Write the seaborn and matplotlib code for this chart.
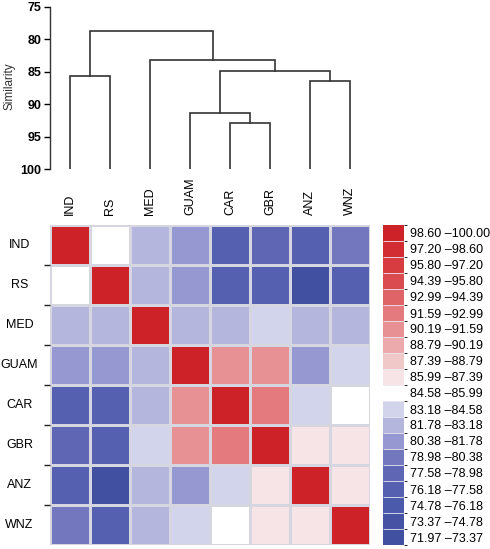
import numpy as np
import pandas as pd
import matplotlib
matplotlib.use("Agg")
import matplotlib.pyplot as plt
import seaborn as sns
from matplotlib.colors import ListedColormap, BoundaryNorm

# Sites in dendrogram / heatmap order
sites = ["IND", "RS", "MED", "GUAM", "CAR", "GBR", "ANZ", "WNZ"]

# Pairwise similarity (%)
similarity = [
    [100.0, 85.3, 82.5, 81.0, 76.8, 78.3, 77.0, 79.6],
    [85.3, 100.0, 82.5, 81.0, 77.0, 77.3, 72.5, 76.5],
    [82.5, 82.5, 100.0, 82.6, 82.5, 83.9, 82.4, 82.2],
    [81.0, 81.0, 82.6, 100.0, 90.6, 90.6, 81.0, 83.9],
    [76.8, 77.0, 82.5, 90.6, 100.0, 92.2, 83.9, 85.3],
    [78.3, 77.3, 83.9, 90.6, 92.2, 100.0, 86.5, 86.6],
    [77.0, 72.5, 82.4, 81.0, 83.9, 86.5, 100.0, 86.5],
    [79.6, 76.5, 82.2, 83.9, 85.3, 86.6, 86.5, 100.0],
]

# Dendrogram merges (scipy-style: left id, right id, similarity); new ids start at 8
merges = [
    [4, 5, 92.93],    # CAR + GBR        -> 8
    [3, 8, 91.39],    # GUAM + 8         -> 9
    [6, 7, 86.37],    # ANZ + WNZ        -> 10
    [0, 1, 85.66],    # IND + RS         -> 11
    [9, 10, 84.94],   # 9 + 10           -> 12
    [2, 12, 83.25],   # MED + 12         -> 13
    [11, 13, 78.70],  # 11 + 13          -> 14
]

# Colour class boundaries of the legend
bounds = [71.97, 73.37, 74.78, 76.18, 77.58, 78.98, 80.38, 81.78, 83.18, 84.58,
          85.99, 87.39, 88.79, 90.19, 91.59, 92.99, 94.39, 95.80, 97.20, 98.60, 100.00]

# Class colours, low -> high
class_colors = [
    "#4150a0", "#4653a5", "#4b5aaa", "#5560b0", "#5f66b4",
    "#7378be", "#9698d2", "#b4b6de", "#d2d4ec", "#ffffff",
    "#f6e4e6", "#f0c8c8", "#ecaaac", "#e89194", "#e47a7e",
    "#de6468", "#da4b50", "#d63c40", "#d22d32", "#cd2328",
]

plt.rcParams["font.family"] = ["Liberation Sans", "DejaVu Sans"]

fig = plt.figure(figsize=(4.9, 5.49), dpi=100)
W, H = 490, 549

def box(x0, y0, x1, y1):
    return [x0 / W, 1 - y1 / H, (x1 - x0) / W, (y1 - y0) / H]

ax_d = fig.add_axes(box(50, 6.7, 370, 169.3))
ax_h = fig.add_axes(box(50, 225, 370, 545))
cax = fig.add_axes(box(383, 225, 404, 545))

# ---- dendrogram ----
pos = {i: i + 0.5 for i in range(len(sites))}
hgt = {i: 100.0 for i in range(len(sites))}
for k, (a, b, h) in enumerate(merges):
    a, b = int(a), int(b)
    xa, xb = pos[a], pos[b]
    ax_d.plot([xa, xa, xb, xb], [hgt[a], h, h, hgt[b]], color="#333333", lw=1.2,
              solid_joinstyle="miter")
    nid = len(sites) + k
    pos[nid] = (xa + xb) / 2
    hgt[nid] = h

ax_d.set_xlim(0, len(sites))
ax_d.set_ylim(100, 75)
ax_d.set_yticks([75, 80, 85, 90, 95, 100])
ax_d.tick_params(axis="y", length=4, width=1, pad=2, labelsize=9)
for t in ax_d.get_yticklabels():
    t.set_fontweight("bold")
ax_d.xaxis.set_visible(False)
for s in ["top", "right", "bottom"]:
    ax_d.spines[s].set_visible(False)
ax_d.spines["left"].set_linewidth(1)
ax_d.spines["left"].set_color("#333333")
ax_d.patch.set_alpha(0)
fig.text(10 / W, 1 - 86 / H, "Similarity", rotation=90, ha="center", va="center",
         fontsize=8.5, color="#333333")

# ---- heatmap ----
df = pd.DataFrame(similarity, index=sites, columns=sites)
cmap = ListedColormap(class_colors)
norm = BoundaryNorm(bounds, cmap.N)
sns.heatmap(df, ax=ax_h, cmap=cmap, norm=norm, cbar_ax=cax,
            linewidths=0.8, linecolor="#d6d6e0",
            cbar_kws={"drawedges": True})

ax_h.xaxis.tick_top()
ax_h.set_xticklabels(sites, rotation=90, va="bottom", fontsize=9)
ax_h.tick_params(axis="x", length=0, pad=7)
ax_h.set_yticklabels(sites, rotation=0, ha="center", fontsize=9)
ax_h.tick_params(axis="y", which="major", length=0, pad=22)
ax_h.set_yticks(np.arange(1, len(sites)), minor=True)
ax_h.tick_params(axis="y", which="minor", length=4, width=1, color="#222222")
ax_h.set_xlabel("")
ax_h.set_ylabel("")

# ---- legend bar ----
cbar = ax_h.collections[0].colorbar
centers = [(lo + hi) / 2 for lo, hi in zip(bounds[:-1], bounds[1:])]
labels = [f"{lo:.2f} \u2013{hi:.2f}" for lo, hi in zip(bounds[:-1], bounds[1:])]
cbar.set_ticks(centers)
cbar.set_ticklabels(labels)
cbar.ax.tick_params(length=0, pad=4, labelsize=9)
cbar.outline.set_visible(False)
cbar.dividers.set_color("#e8e8f0")
cbar.dividers.set_linewidth(0.6)

fig.savefig("out.png", dpi=100)
